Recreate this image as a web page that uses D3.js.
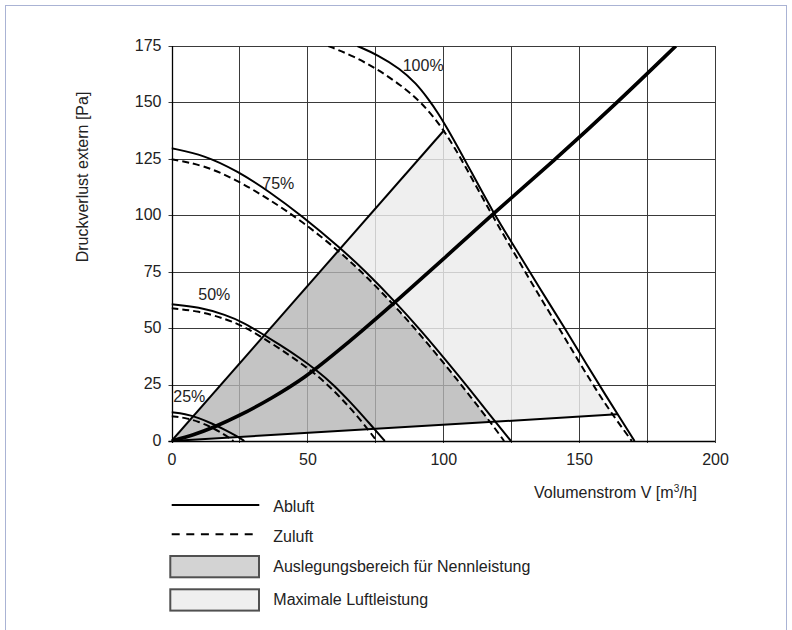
<!DOCTYPE html>
<html><head><meta charset="utf-8">
<script src="https://cdn.jsdelivr.net/npm/d3@7"></script>
<style>
html,body{margin:0;padding:0;background:#fff;}
svg text{font-family:"Liberation Sans",Arial,sans-serif;fill:#222;}
</style></head>
<body><svg id="c" width="792" height="630"></svg>
<script>
// ---- data ----
const xTicks = [0, 50, 100, 150, 200];
const yTicks = [0, 25, 50, 75, 100, 125, 150, 175];
const xGrid = [0, 25, 50, 75, 100, 125, 150, 175, 200];
const yGrid = [0, 25, 50, 75, 100, 125, 150, 175];
// fan curves [volume flow m3/h, pressure Pa]
const abluft25 = [[0,12.7],[5,12],[10,10.3],[15,7.7],[20,4.8],[24,2.2],[26.8,0]];
const zuluft25 = [[0,11],[5,10.3],[10,8.6],[15,5.9],[19,3.3],[22.8,0]];
const abluft50 = [[0,60.6],[10,59.4],[20,55.9],[27,52.2],[33.2,47.6],[40,42.5],[47,37],[53.4,31.4],[59.6,25],[66,17],[72,9],[78.5,0]];
const zuluft50 = [[0,58.8],[10,57.6],[20,54.1],[27,50.5],[33.2,46],[40,40.8],[47,35],[53.4,29.3],[59.6,22.5],[65,15.6],[70,8.8],[75.5,0]];
const abluft75 = [[0,129.7],[12,126.7],[24.4,119.5],[36,110.5],[47.9,99.8],[62,85.7],[72,74.5],[82.3,61.7],[92,48.7],[102,34.3],[110,22.5],[118,10.3],[124.9,0]];
const zuluft75 = [[0,124.8],[12,122.2],[24.4,115.4],[36,107],[47.9,97.5],[62,83.8],[72,72.6],[82.3,59.7],[92,46.5],[102,31.9],[110,19.7],[118,7.3],[122.4,0]];
const abluft100 = [[68.4,175],[76,171],[84,165],[90,158.5],[94.5,151.5],[98,145.5],[101.5,138.5],[108,124.5],[118.2,101.5],[127,84.5],[135.6,67.5],[144.8,49.8],[153,33.5],[160,19.8],[165.5,9.3],[170.4,0]];
const zuluft100 = [[57.7,175],[67,170.5],[76,164.5],[84,158],[92.1,150],[100.4,137.8],[108,122],[117.5,101],[126,83.5],[134,67],[143,49.2],[150,35],[157.2,20.8],[163.5,9.6],[169.4,0]];
// system curve
const anlage = [[0,0],[8,2.6],[16,6.3],[24.4,10.8],[37,19],[49.4,28.3],[60,38.6],[70,48.7],[82.3,61.5],[100,80.5],[118.2,100.6],[141.5,125],[164.1,150],[185.6,175]];
// boundary lines of the operating range
const upperLine = [[0,0],[100.4,137.8]];
const lowerLine = [[0,0],[163.9,11.8]];
const pctLabels = ["25%","50%","75%","100%"];
const legendLabels = ["Abluft","Zuluft","Auslegungsbereich für Nennleistung","Maximale Luftleistung"];

// ---- drawing ----
const svg = d3.select("#c");
const x = d3.scaleLinear().domain([0,200]).range([171.5,715]);
const y = d3.scaleLinear().domain([0,175]).range([441,46]);
const px = v => Math.round(x(v)) + 0.5;
const py = v => Math.round(y(v)) + 0.5;

// outer frame
svg.append("rect").attr("x",5.5).attr("y",5.5).attr("width",781).attr("height",640)
  .attr("fill","none").attr("stroke","#aab3d4").attr("stroke-width",1);

const defs = svg.append("defs");
defs.append("clipPath").attr("id","plot").append("rect")
  .attr("x",x(0)).attr("y",y(175)).attr("width",x(200)-x(0)).attr("height",y(0)-y(175));

const line = d3.line().x(d=>x(d[0])).y(d=>y(d[1])).curve(d3.curveBasis);
const straight = d3.line().x(d=>x(d[0])).y(d=>y(d[1]));

// wedge between the two boundary lines (extended)
const k1 = upperLine[1][1]/upperLine[1][0], k2 = lowerLine[1][1]/lowerLine[1][0];
const wedgePts = [[0,0],[300,300*k1],[300,300*k2]];
defs.append("clipPath").attr("id","wedge").append("path").attr("d", straight(wedgePts)+"Z");
function underPath(pts){
  const last = pts[pts.length-1], first = pts[0];
  return line(pts) + "L" + x(last[0]) + "," + y(0) + "L" + x(0) + "," + y(0) + "L" + x(0) + "," + y(first[1]) + "Z";
}
defs.append("clipPath").attr("id","under100").append("path").attr("d", underPath(zuluft100));
defs.append("clipPath").attr("id","under75").append("path").attr("d", underPath(zuluft75));

function drawGrid(g, color){
  g.selectAll("line.v").data(xGrid).join("line").attr("class","v")
    .attr("x1",d=>px(d)).attr("x2",d=>px(d)).attr("y1",y(175)).attr("y2",y(0)+2)
    .attr("stroke",color).attr("stroke-width",1);
  g.selectAll("line.h").data(yGrid).join("line").attr("class","h")
    .attr("y1",d=>py(d)).attr("y2",d=>py(d)).attr("x1",x(0)-3).attr("x2",x(200))
    .attr("stroke",color).attr("stroke-width",1);
}
drawGrid(svg.append("g"), "#3a3a3a");

// light region
const lightG = svg.append("g").attr("clip-path","url(#wedge)").append("g").attr("clip-path","url(#under100)");
lightG.append("rect").attr("x",x(0)).attr("y",y(175)).attr("width",x(200)-x(0)).attr("height",y(0)-y(175)).attr("fill","#efefef");
drawGrid(lightG.append("g"), "#cdcdcd");
// dark region
const darkG = svg.append("g").attr("clip-path","url(#wedge)").append("g").attr("clip-path","url(#under75)");
darkG.append("rect").attr("x",x(0)).attr("y",y(175)).attr("width",x(200)-x(0)).attr("height",y(0)-y(175)).attr("fill","#c4c4c4");
drawGrid(darkG.append("g"), "#9a9a9a");

// axes lines
svg.append("line").attr("x1",px(0)).attr("x2",px(0)).attr("y1",y(175)).attr("y2",y(0)+2).attr("stroke","#000").attr("stroke-width",1.3);
svg.append("line").attr("x1",x(0)-3).attr("x2",x(200)).attr("y1",py(0)).attr("y2",py(0)).attr("stroke","#000").attr("stroke-width",1.3);

// tick labels via axes
const ax = svg.append("g").attr("transform",`translate(0,${y(0)})`)
  .call(d3.axisBottom(x).tickValues(xTicks).tickSize(0).tickPadding(12.5).tickFormat(d3.format("d")));
ax.select(".domain").remove();
ax.selectAll("text").attr("font-size",16).attr("font-family","Liberation Sans, Arial, sans-serif").attr("fill","#222");
const ay = svg.append("g").attr("transform",`translate(${x(0)},0)`)
  .call(d3.axisLeft(y).tickValues(yTicks).tickSize(0).tickPadding(10).tickFormat(d3.format("d")));
ay.select(".domain").remove();
ay.selectAll("text").attr("font-size",16).attr("dy","0.27em").attr("font-family","Liberation Sans, Arial, sans-serif").attr("fill","#222");

// curves
const cg = svg.append("g").attr("clip-path","url(#plot)");
cg.append("path").attr("d",straight(upperLine)).attr("fill","none").attr("stroke","#000").attr("stroke-width",2);
cg.append("path").attr("d",straight(lowerLine)).attr("fill","none").attr("stroke","#000").attr("stroke-width",2);
[zuluft25,zuluft50,zuluft75,zuluft100].forEach(c=>{
  cg.append("path").attr("d",line(c)).attr("fill","none").attr("stroke","#000").attr("stroke-width",2).attr("stroke-dasharray","7,4");
});
[abluft25,abluft50,abluft75,abluft100].forEach(c=>{
  cg.append("path").attr("d",line(c)).attr("fill","none").attr("stroke","#000").attr("stroke-width",2);
});
cg.append("path").attr("d",line(anlage)).attr("fill","none").attr("stroke","#000").attr("stroke-width",3.6);

// percentage labels
const pctPos = [[173.3,401.5],[198.3,300],[262.3,189],[402.7,70.5]];
pctLabels.forEach((t,i)=>{
  svg.append("text").attr("x",pctPos[i][0]).attr("y",pctPos[i][1]).attr("font-size",16).text(t);
});

// axis titles
const xt = svg.append("text").attr("x",697).attr("y",497.5).attr("font-size",16).attr("text-anchor","end");
xt.append("tspan").text("Volumenstrom V [m");
xt.append("tspan").attr("font-size",10).attr("dy",-6).text("3");
xt.append("tspan").attr("dy",6).text("/h]");
svg.append("text").attr("transform","translate(88.3,177) rotate(-90)").attr("text-anchor","middle").attr("font-size",16)
  .text("Druckverlust extern [Pa]");

// legend
const lg = svg.append("g");
lg.append("line").attr("x1",171.7).attr("x2",259.3).attr("y1",505).attr("y2",505).attr("stroke","#000").attr("stroke-width",2);
lg.append("line").attr("x1",171.7).attr("x2",259.3).attr("y1",534.3).attr("y2",534.3).attr("stroke","#000").attr("stroke-width",2).attr("stroke-dasharray","8,6.6");
lg.append("rect").attr("x",170.3).attr("y",556).attr("width",88.7).attr("height",21.3).attr("fill","#d3d3d3").attr("stroke","#505050").attr("stroke-width",2);
lg.append("rect").attr("x",170.3).attr("y",589.3).attr("width",88.7).attr("height",21.3).attr("fill","#efefef").attr("stroke","#505050").attr("stroke-width",2);
const lyBase = [511.7,541.5,572.3,605];
legendLabels.forEach((t,i)=>{
  lg.append("text").attr("x",273.3).attr("y",lyBase[i]).attr("font-size",16).text(t);
});
</script></body></html>
